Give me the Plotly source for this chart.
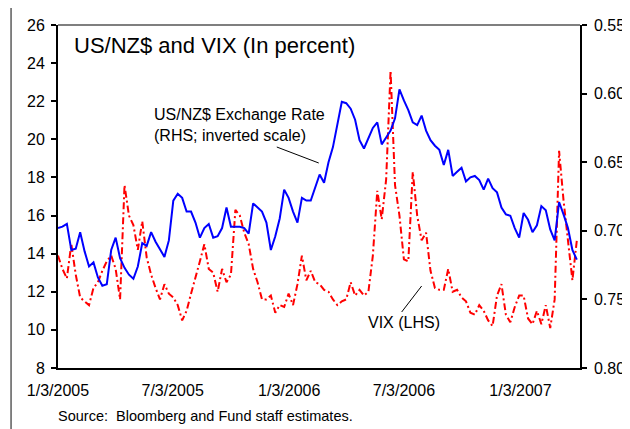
import pandas as pd
import plotly.graph_objects as go

# Weekly observations starting 2005-01-03
dates = pd.date_range("2005-01-03", periods=118, freq="7D")

# US/NZ$ exchange rate (right axis, inverted)
nzd = [0.698, 0.697, 0.695, 0.714, 0.713, 0.701, 0.715, 0.726, 0.723, 0.734,
       0.740, 0.739, 0.714, 0.705, 0.720, 0.727, 0.732, 0.735, 0.726, 0.709,
       0.711, 0.701, 0.708, 0.714, 0.719, 0.707, 0.678, 0.673, 0.676, 0.686,
       0.686, 0.694, 0.705, 0.698, 0.695, 0.705, 0.704, 0.698, 0.683, 0.697,
       0.697, 0.697, 0.698, 0.702, 0.680, 0.683, 0.686, 0.694, 0.714, 0.704,
       0.691, 0.670, 0.676, 0.686, 0.694, 0.676, 0.678, 0.678, 0.669, 0.659,
       0.665, 0.650, 0.639, 0.623, 0.606, 0.607, 0.611, 0.619, 0.634, 0.640,
       0.632, 0.625, 0.621, 0.637, 0.632, 0.627, 0.618, 0.597, 0.605, 0.612,
       0.621, 0.623, 0.616, 0.627, 0.634, 0.638, 0.641, 0.652, 0.641, 0.660,
       0.657, 0.654, 0.664, 0.661, 0.660, 0.663, 0.670, 0.662, 0.669, 0.672,
       0.683, 0.688, 0.689, 0.698, 0.705, 0.687, 0.692, 0.701, 0.696, 0.682,
       0.685, 0.699, 0.707, 0.679, 0.688, 0.698, 0.714, 0.721]

# VIX (left axis)
vix = [13.9, 13.2, 12.7, 14.5, 12.9, 11.7, 11.5, 11.3, 12.2, 12.5,
       13.1, 13.6, 13.9, 13.2, 11.6, 17.6, 16.0, 15.5, 14.2, 15.7,
       13.8, 12.9, 12.2, 11.6, 12.4, 11.9, 11.7, 11.3, 10.5, 11.0,
       11.9, 12.7, 13.6, 14.5, 13.2, 13.0, 12.0, 13.2, 12.5, 12.9,
       16.3, 16.0, 15.1, 14.5, 13.2, 12.5, 11.6, 11.6, 11.8, 10.9,
       11.3, 11.2, 11.9, 11.3, 12.4, 13.9, 12.6, 13.1, 12.5, 12.4,
       12.1, 12.0, 11.6, 11.3, 11.5, 11.6, 12.5, 11.8, 12.1, 11.8,
       12.0, 13.9, 17.3, 15.8, 17.9, 23.6, 17.6, 16.0, 13.7, 13.6,
       18.3, 16.0, 14.7, 15.1, 13.1, 12.2, 12.1, 12.1, 13.2, 12.0,
       12.1, 11.7, 11.5, 10.9, 10.8, 11.3, 11.0, 10.5, 10.2, 11.8,
       12.4, 10.8, 10.4, 11.2, 11.8, 11.8, 10.6, 10.3, 11.0, 10.3,
       11.3, 10.1, 11.6, 19.4, 16.8, 14.7, 12.6, 14.7]

left_ticks = [8, 10, 12, 14, 16, 18, 20, 22, 24, 26]
right_ticks = [0.55, 0.60, 0.65, 0.70, 0.75, 0.80]
x_tickvals = ["2005-01-03", "2005-07-03", "2006-01-03", "2006-07-03", "2007-01-03"]
x_ticktext = ["1/3/2005", "7/3/2005", "1/3/2006", "7/3/2006", "1/3/2007"]

FONT = "Liberation Sans, Arial, sans-serif"

fig = go.Figure()
fig.add_trace(go.Scatter(x=dates, y=vix, mode="lines", yaxis="y",
                         line=dict(color="#FF0000", width=2, dash="7px,3px,2px,3px"),
                         showlegend=False))
fig.add_trace(go.Scatter(x=dates, y=nzd, mode="lines", yaxis="y2",
                         line=dict(color="#0000FF", width=2),
                         showlegend=False))

# The page body adds an 8px offset; compensate so the chart lands at target pixels.
OFF = 8
FW, FH = 630 - OFF, 429 - OFF
# plot-area geometry in target-picture pixels
L, R, T, B = 58, 580.5, 25, 368
W, H = R - L, B - T
def px(x): return (x - L) / W
def py(y): return (B - y) / H

fig.update_layout(
    width=FW, height=FH,
    margin=dict(l=L - OFF, r=FW - (R - OFF), t=T - OFF, b=FH - (B - OFF), pad=0,
                autoexpand=False),
    paper_bgcolor="white", plot_bgcolor="white",
    font=dict(family=FONT, size=16, color="black"),
    xaxis=dict(type="date", range=["2005-01-03", "2007-04-07"],
               tickmode="array", tickvals=x_tickvals, ticktext=x_ticktext,
               showgrid=False, zeroline=False, showline=True, automargin=False,
               linecolor="black", linewidth=2, ticks="",
               ticklabelstandoff=7,
               tickfont=dict(family=FONT, size=16, color="black")),
    yaxis=dict(range=[8, 26], tickmode="array", tickvals=left_ticks,
               showgrid=False, zeroline=False, showline=True, automargin=False,
               linecolor="black", linewidth=2, ticks="outside",
               ticklen=5, tickwidth=1.5, tickcolor="black",
               ticklabelstandoff=3,
               tickfont=dict(family=FONT, size=16, color="black")),
    yaxis2=dict(range=[0.80, 0.55], overlaying="y", side="right",
                tickmode="array", tickvals=right_ticks, tickformat=".2f",
                showgrid=False, zeroline=False, showline=True, automargin=False,
                linecolor="black", linewidth=1.5, ticks="outside",
                ticklen=5, tickwidth=1.5, tickcolor="black",
                ticklabelstandoff=4,
                tickfont=dict(family=FONT, size=16, color="black")),
)

shapes = [
    # top border of the plot area
    dict(type="line", xref="paper", yref="paper", x0=0, x1=1, y0=1, y1=1,
         line=dict(color="black", width=1.2)),
    # outer chart frame (top and left visible)
    dict(type="line", xref="paper", yref="paper", x0=px(11), x1=px(640),
         y0=py(7), y1=py(7), line=dict(color="#333333", width=1.2)),
    dict(type="line", xref="paper", yref="paper", x0=px(11), x1=px(11),
         y0=py(7), y1=py(440), line=dict(color="#333333", width=1.2)),
    # leader lines
    dict(type="line", xref="paper", yref="paper", x0=px(277), y0=py(147),
         x1=px(319), y1=py(163), line=dict(color="black", width=1)),
    dict(type="line", xref="paper", yref="paper", x0=px(402), y0=py(312),
         x1=px(422), y1=py(286), line=dict(color="black", width=1)),
]
fig.update_layout(shapes=shapes)

annotations = [
    dict(text="US/NZ$ and VIX (In percent)", xref="paper", yref="paper",
         x=px(72), y=py(46), xanchor="left", yanchor="middle", showarrow=False,
         font=dict(family=FONT, size=22, color="black")),
    dict(text="US/NZ$ Exchange Rate<br>(RHS; inverted scale)", xref="paper", yref="paper",
         x=px(152), y=py(125), xanchor="left", yanchor="middle", showarrow=False,
         align="left", font=dict(family=FONT, size=16, color="black")),
    dict(text="VIX (LHS)", xref="paper", yref="paper",
         x=px(366), y=py(322), xanchor="left", yanchor="middle", showarrow=False,
         font=dict(family=FONT, size=16, color="black")),
    dict(text="Source:  Bloomberg and Fund staff estimates.", xref="paper", yref="paper",
         x=px(56), y=py(416), xanchor="left", yanchor="middle", showarrow=False,
         font=dict(family=FONT, size=14.5, color="black")),
]
fig.update_layout(annotations=annotations)

fig.write_html("out.html")
